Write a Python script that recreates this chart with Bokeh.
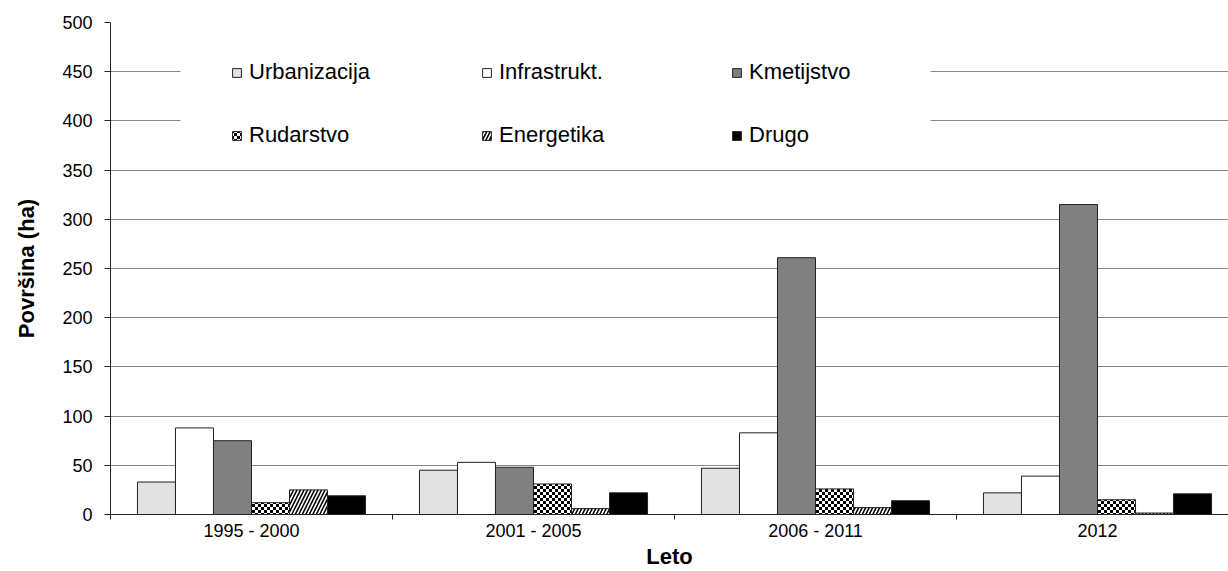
import base64
import struct
import zlib
import numpy as np
from bokeh.plotting import figure
from bokeh.models import (Range1d, FixedTicker, Legend, LegendItem, BoxAnnotation,
                          ImageURLTexture, ColumnDataSource)
from bokeh.core.properties import value
from bokeh.embed import file_html
from bokeh.resources import INLINE

categories = ["1995 - 2000", "2001 - 2005", "2006 - 2011", "2012"]
series_names = ["Urbanizacija", "Infrastrukt.", "Kmetijstvo", "Rudarstvo", "Energetika", "Drugo"]
urbanizacija = [33, 45, 47, 22]
infrastrukt = [88, 53, 83, 39]
kmetijstvo = [75, 48, 261, 315]
rudarstvo = [12, 31, 26, 15]
energetika = [25, 6, 7, 1.5]
drugo = [19, 22, 14, 21]
y_ticks = [0, 50, 100, 150, 200, 250, 300, 350, 400, 450, 500]

series_values = [urbanizacija, infrastrukt, kmetijstvo, rudarstvo, energetika, drugo]

FONT = "Liberation Sans"


def checker_png(cell=3):
    n = cell * 2
    rows = b""
    for yy in range(n):
        row = b"\x00"
        for xx in range(n):
            black = ((xx // cell) + (yy // cell)) % 2 == 0
            row += b"\x00" if black else b"\xff"
        rows += row

    def chunk(tag, data):
        c = struct.pack(">I", len(data)) + tag + data
        return c + struct.pack(">I", zlib.crc32(tag + data) & 0xffffffff)

    png = b"\x89PNG\r\n\x1a\n"
    png += chunk(b"IHDR", struct.pack(">IIBBBBB", n, n, 8, 0, 0, 0, 0))
    png += chunk(b"IDAT", zlib.compress(rows))
    png += chunk(b"IEND", b"")
    return "data:image/png;base64," + base64.b64encode(png).decode()


checker = ImageURLTexture(url=checker_png(3))

p = figure(width=1228, height=571, output_backend="svg", toolbar_location=None,
           x_range=Range1d(0, 3.9645), y_range=Range1d(0, 500),
           min_border_left=110, min_border_top=22, min_border_bottom=57, min_border_right=0)
p.outline_line_color = None
p.background_fill_color = "white"
p.border_fill_color = "white"

styles = [
    dict(fill_color="#e2e2e2"),
    dict(fill_color="white"),
    dict(fill_color="#808080"),
    dict(fill_color="white", hatch_pattern=value("checker"), hatch_extra={"checker": checker},
         hatch_color="black"),
    dict(fill_color="white", hatch_pattern="right_diagonal_line", hatch_color="black",
         hatch_scale=7, hatch_weight=1.6),
    dict(fill_color="black"),
]

bar_w = 0.1348
idx = np.arange(len(categories))
renderers = []
for i, (name, vals, st) in enumerate(zip(series_names, series_values, styles)):
    xs = idx + 0.5 + (i - 2.5) * bar_w
    src = ColumnDataSource(dict(x=xs, top=vals))
    r = p.vbar(x="x", top="top", width=bar_w, bottom=0, source=src,
               line_color="#222222", line_width=1, **st)
    renderers.append(r)

# white background behind legend (interrupts gridlines)
p.add_layout(BoxAnnotation(left=0.248, right=2.908, bottom=366, top=470,
                           fill_color="white", fill_alpha=1, line_color=None))

legend = Legend(items=[LegendItem(label=n, renderers=[r]) for n, r in zip(series_names, renderers)],
                location=(121, 366), orientation="horizontal", ncols=3,
                glyph_width=11, glyph_height=11, label_standoff=7, label_width=195,
                label_height=20, spacing=37, padding=10,
                label_text_font=FONT, label_text_font_size="22px", label_text_color="black",
                border_line_color=None, background_fill_alpha=0)
p.add_layout(legend)

# grid
p.xgrid.visible = False
p.ygrid.grid_line_color = "#868686"
p.ygrid.grid_line_width = 1
p.ygrid.ticker = FixedTicker(ticks=y_ticks)

# y axis
p.yaxis.ticker = FixedTicker(ticks=y_ticks)
p.yaxis.axis_line_color = "#222222"
p.yaxis.major_tick_line_color = "#222222"
p.yaxis.major_tick_out = 6
p.yaxis.major_tick_in = 0
p.yaxis.minor_tick_line_color = None
p.yaxis.major_label_standoff = 12
p.yaxis.major_label_text_font = FONT
p.yaxis.major_label_text_font_size = "18px"
p.yaxis.major_label_text_color = "black"
p.yaxis.axis_label = "Površina (ha)"
p.yaxis.axis_label_text_font = FONT
p.yaxis.axis_label_text_font_size = "22px"
p.yaxis.axis_label_text_font_style = "bold"
p.yaxis.axis_label_text_color = "black"
p.yaxis.axis_label_standoff = 20

# x axis
centers = [i + 0.5 for i in range(len(categories))]
p.xaxis.ticker = FixedTicker(ticks=centers, minor_ticks=list(range(len(categories) + 1)))
p.xaxis.major_label_overrides = {c: lab for c, lab in zip(centers, categories)}
p.xaxis.axis_line_color = "#222222"
p.xaxis.major_tick_line_color = None
p.xaxis.major_tick_out = 0
p.xaxis.major_tick_in = 0
p.xaxis.minor_tick_line_color = "#222222"
p.xaxis.minor_tick_out = 5
p.xaxis.minor_tick_in = 0
p.xaxis.major_label_standoff = 1
p.xaxis.major_label_text_font = FONT
p.xaxis.major_label_text_font_size = "18px"
p.xaxis.major_label_text_color = "black"
p.xaxis.axis_label = "Leto"
p.xaxis.axis_label_text_font = FONT
p.xaxis.axis_label_text_font_size = "22px"
p.xaxis.axis_label_text_font_style = "bold"
p.xaxis.axis_label_text_color = "black"
p.xaxis.axis_label_standoff = 0

open("out.html", "w").write(file_html(p, INLINE))
